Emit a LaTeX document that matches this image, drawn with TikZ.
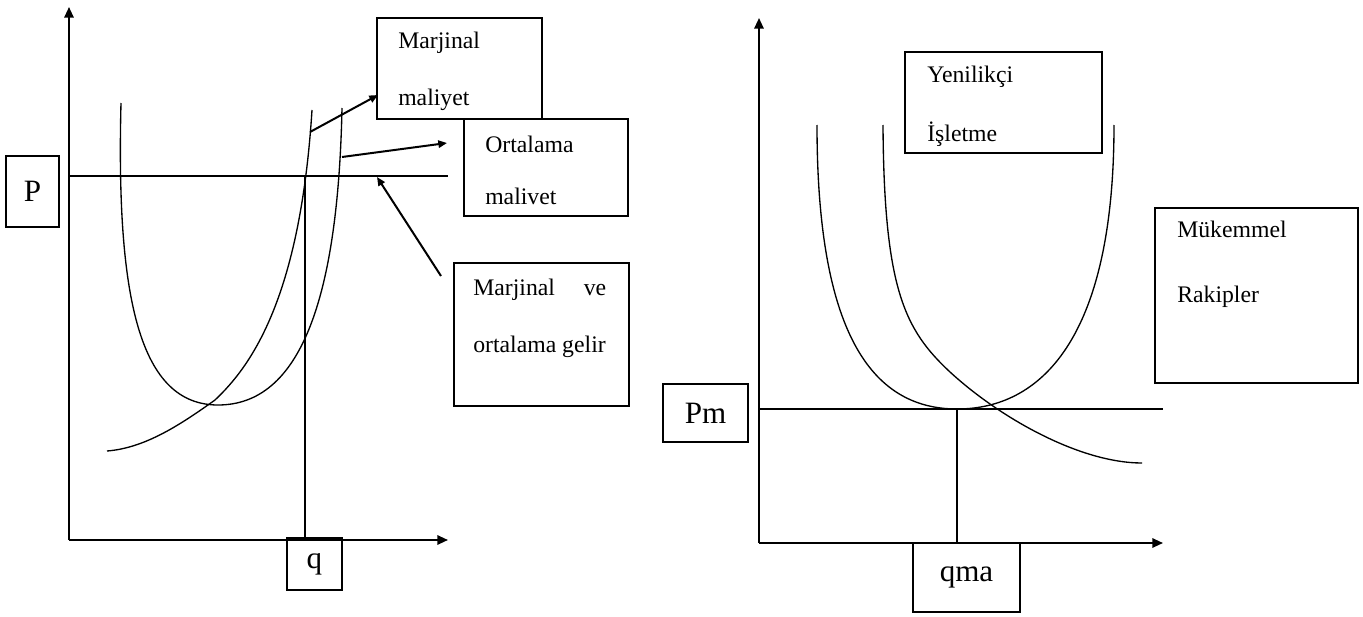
\documentclass[tikz,border=0pt]{standalone}
\usepackage{fontspec}
\setmainfont{Liberation Serif}
\usetikzlibrary{arrows.meta,fit}
\begin{document}
\begin{tikzpicture}[x=0.75pt,y=-0.75pt,
  box/.style={draw,line width=1.1pt,inner sep=0pt},
  big/.style={inner sep=0pt,font=\fontsize{23.3}{26}\selectfont},
  small/.style={inner sep=0pt,anchor=base west,font=\fontsize{17.8}{20}\selectfont},
  axis/.style={line width=1.5pt,-{Triangle[length=8pt,width=7pt]}},
  pointer/.style={line width=1.5pt,-{Triangle[length=6.5pt,width=5.5pt]}},
  curve/.style={line width=1pt},
  guide/.style={line width=1pt}]
\useasboundingbox (0,0) rectangle (1363,617);

% ---------- left panel: firm costs and revenue ----------
\coordinate (oL) at (69,540);
\coordinate (yL) at (69,7);
\coordinate (xL) at (448,540);
\draw[axis] (oL) -- (yL);
\draw[axis] (oL) -- (xL);

\coordinate (pL) at (69,176);
\coordinate (pR) at (448,176);
\coordinate (eqTop) at (305,176);
\coordinate (eqBot) at (305,540);
\draw[guide] (pL) -- (pR);
\draw[guide] (eqTop) -- (eqBot);

% average cost (U shape)
\draw[curve] (121,103) .. controls (116,300) and (140,405) .. (218,405)
                       .. controls (300,405) and (338,300) .. (342,108);
% marginal cost
\draw[curve] (107,451) .. controls (145,448) and (180,425) .. (215,400)
                       .. controls (250,367) and (300,300) .. (312,110);

\node[box,fit={(6,156)(59,227)}] (pbox) {};
\node[big] (ptext) at (pbox.center) {P};
\node[box,fit={(287,538)(342,590)}] (qbox) {};
\node[big] (qtext) at (qbox.center) {q};

\node[box,fit={(377,18)(542,119)}] (mcbox) {};
\node[small] (mct1) at (398,49) {Marjinal};
\node[small] (mct2) at (398,105) {maliyet};

\node[box,fit={(464,119)(628,216)},fill=white] (acbox) {};
\node[small] (act1) at (485,152) {Ortalama};
\node[small] (act2) at (485,204) {malivet};

\node[box,fit={(454,263)(629,406)}] (mrbox) {};
\node[small] (mrt1) at (473,295) {\makebox[99.75pt][s]{Marjinal\hfill ve}};
\node[small] (mrt2) at (473,352) {ortalama gelir};

\coordinate (mcStart) at (310,132);
\coordinate (mcTip) at (378,95);
\coordinate (acStart) at (342,157);
\coordinate (acTip) at (447,143);
\coordinate (mrStart) at (441,276);
\coordinate (mrTip) at (377,177);
\draw[pointer] (mcStart) -- (mcTip);
\draw[pointer] (acStart) -- (acTip);
\draw[pointer] (mrStart) -- (mrTip);

% ---------- right panel: innovating firm and perfect competitors ----------
\coordinate (oR) at (759,543);
\coordinate (yR) at (759,18);
\coordinate (xR) at (1163,543);
\draw[axis] (oR) -- (yR);
\draw[axis] (oR) -- (xR);

\coordinate (pmL) at (759,409);
\coordinate (pmR) at (1163,409);
\coordinate (qmTop) at (957,409);
\coordinate (qmBot) at (957,543);
\draw[guide] (pmL) -- (pmR);
\draw[guide] (qmTop) -- (qmBot);

\draw[curve] (817,125) .. controls (817,330) and (870,409) .. (957,409)
                       .. controls (1040,409) and (1114,340) .. (1114,125);
\draw[curve] (883,125) .. controls (884,290) and (905,330) .. (950,372)
                       .. controls (1000,418) and (1080,463) .. (1142,463);

\node[box,fit={(663,384)(748,442)}] (pmbox) {};
\node[big] (pmtext) at (pmbox.center) {Pm};
\node[box,fit={(913,543)(1020,612)}] (qmabox) {};
\node[big] (qmatext) at (qmabox.center) {qma};

\node[box,fit={(905,52)(1102,153)}] (ybox) {};
\node[small] (yt1) at (927,83) {Yenilikçi};
\node[small] (yt2) at (927,142) {İşletme};

\node[box,fit={(1155,208)(1358,383)}] (mkbox) {};
\node[small] (mkt1) at (1177,237) {Mükemmel};
\node[small] (mkt2) at (1177,302) {Rakipler};
\end{tikzpicture}
\end{document}
